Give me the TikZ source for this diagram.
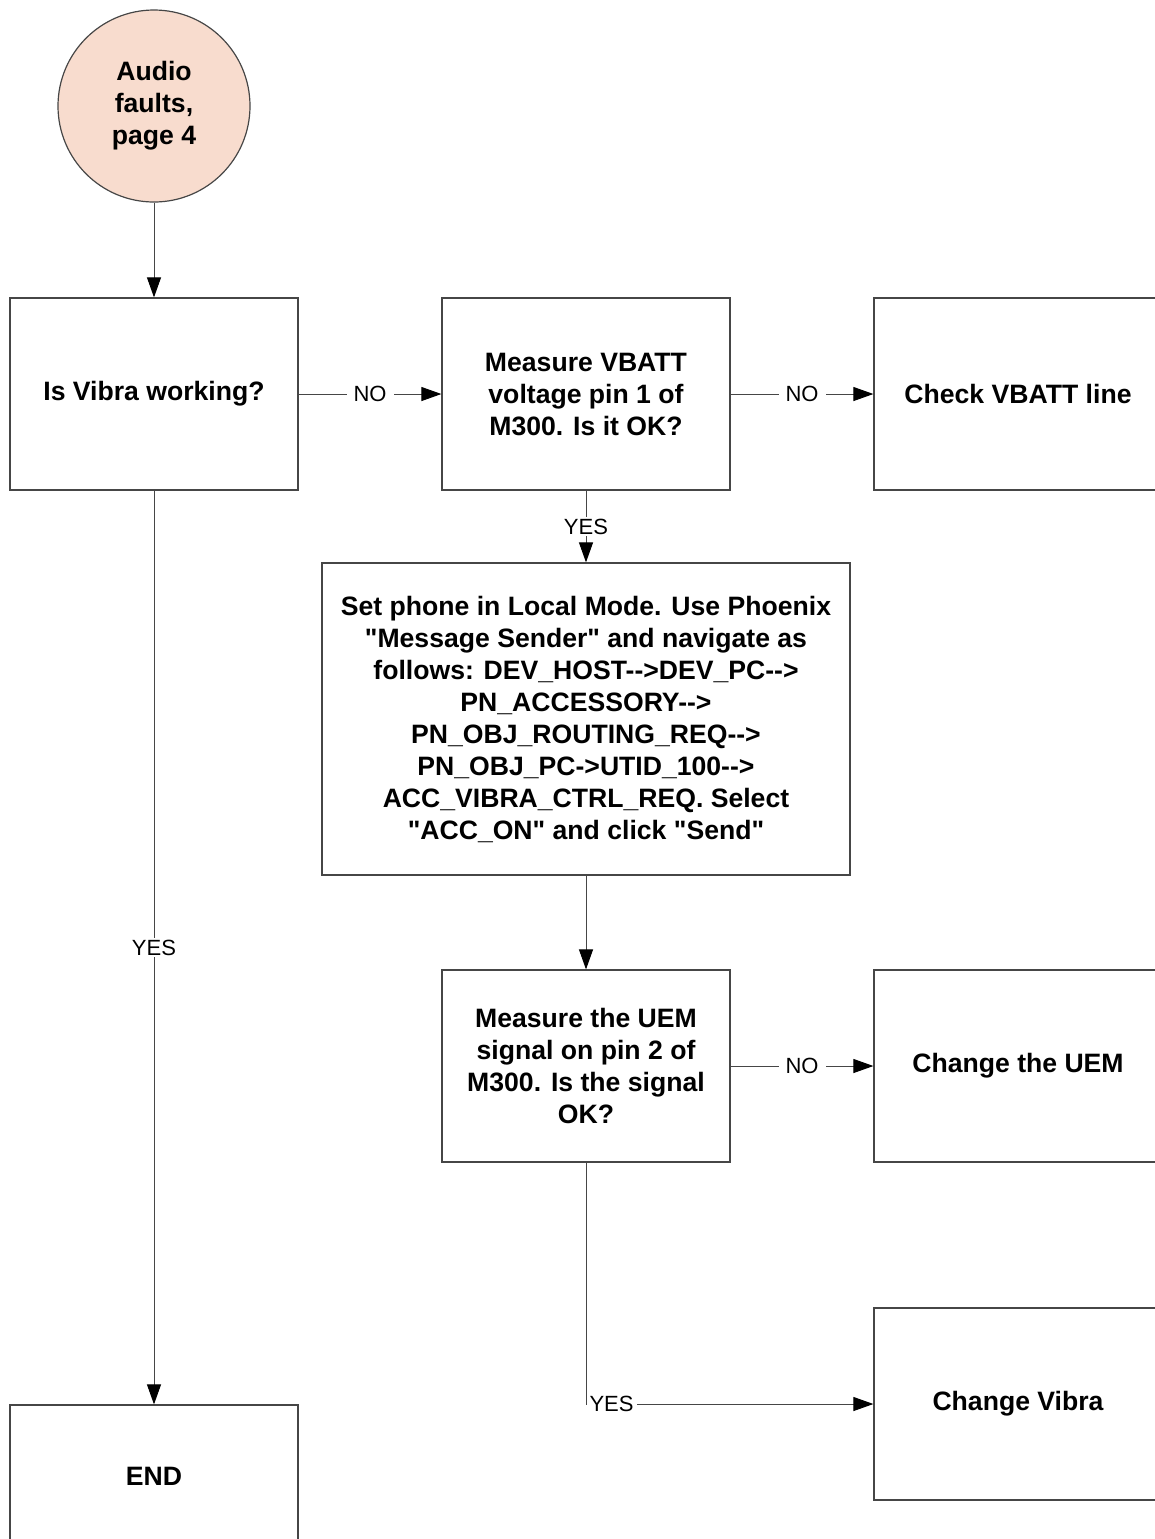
\documentclass[tikz,border=0pt]{standalone}
\usepackage{fontspec}
\setmainfont{Liberation Sans}
\usetikzlibrary{arrows.meta, positioning}
\definecolor{startpeach}{RGB}{248, 220, 206}
\definecolor{edgegray}{RGB}{70, 70, 70}

\begin{document}
\begin{tikzpicture}[
  x=0.5pt, y=-0.5pt,
  every node/.style={font=\fontsize{13.3}{16}\selectfont\bfseries, align=center, inner sep=0pt},
  start/.style={circle, draw=edgegray, fill=startpeach, line width=0.6pt, minimum size=96pt},
  stepbox/.style={draw=edgegray, fill=white, line width=0.6pt, minimum width=144pt, minimum height=96pt},
  arr/.style={-{Triangle[length=10pt, width=7pt, color=black]}, edgegray, line width=0.5pt},
  lbl/.style={font=\fontsize{11}{13}\selectfont, text=black, fill=white, inner xsep=3.5pt, inner ysep=1pt}
]
  \useasboundingbox (0, 0) rectangle (1155, 1539);

  % start and first decision
  \node[start]   (audio) at (154, 106)  {Audio\\faults,\\page 4};
  \node[stepbox] (vibra) at (154, 394)  {Is Vibra working?};
  \node[stepbox] (vbatt) at (586, 394)  {Measure VBATT\\voltage pin 1 of\\M300. Is it OK?};
  \node[stepbox] (line)  at (1018, 394) {Check VBATT line};

  % message sender steps
  \node[stepbox, minimum width=264pt, minimum height=156pt] (local) at (586, 719)
    {Set phone in Local Mode. Use Phoenix\\
     \textquotedbl Message Sender\textquotedbl{} and navigate as\\
     follows: DEV\_HOST-{}->DEV\_PC-{}->\\
     PN\_ACCESSORY-{}->\\
     PN\_OBJ\_ROUTING\_REQ-{}->\\
     PN\_OBJ\_PC->UTID\_100-{}->\\
     ACC\_VIBRA\_CTRL\_REQ. Select\\
     \textquotedbl ACC\_ON\textquotedbl{} and click \textquotedbl Send\textquotedbl};

  \node[stepbox] (uem)     at (586, 1066)  {Measure the UEM\\signal on pin 2 of\\M300. Is the signal\\OK?};
  \node[stepbox] (chuem)   at (1018, 1066) {Change the UEM};
  \node[stepbox] (chvibra) at (1018, 1404) {Change Vibra};
  \node[stepbox, minimum height=71pt] (done) at (154, 1476) {END};

  \draw[arr] (audio) -- (vibra);
  \draw[arr] (vibra) -- node[lbl] {NO} (vbatt);
  \draw[arr] (vbatt) -- node[lbl] {NO} (line);
  \draw[arr] (vbatt) -- node[lbl] {YES} (local);
  \draw[arr] (local) -- (uem);
  \draw[arr] (uem) -- node[lbl] {NO} (chuem);
  \draw[arr] (uem) |- node[lbl, anchor=west, inner xsep=1.5pt, pos=0.5] {YES} (chvibra);
  \draw[arr] (vibra) -- node[lbl] {YES} (done);
\end{tikzpicture}
\end{document}
